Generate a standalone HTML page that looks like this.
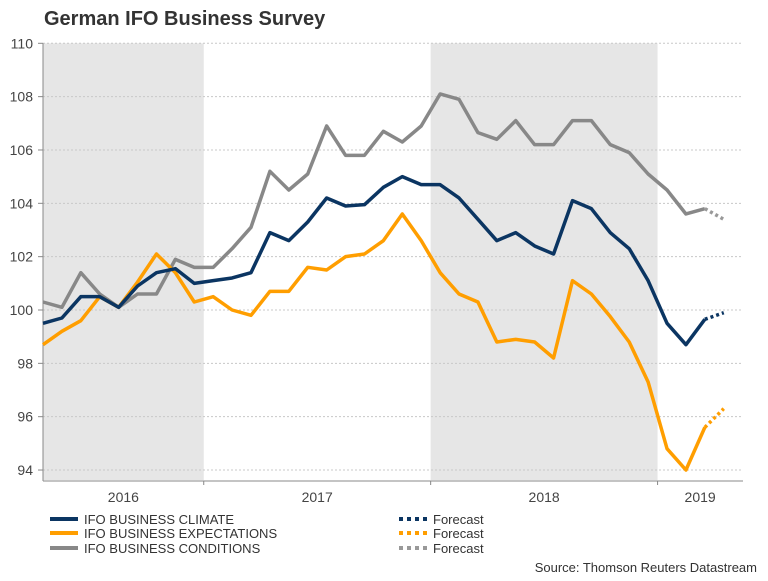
<!DOCTYPE html>
<html><head><meta charset="utf-8"><style>
body{margin:0;background:#fff;font-family:"Liberation Sans",sans-serif;}
svg text{font-family:"Liberation Sans",sans-serif;}
</style></head><body>
<svg id="chart" width="768" height="576" xmlns="http://www.w3.org/2000/svg">
<text x="44" y="25" font-size="20" font-weight="bold" fill="#333">German IFO Business Survey</text>
<g id="bands"></g><g id="grid"></g><g id="axes"></g><g id="series"></g>
<g>
<line x1="50" y1="519" x2="78" y2="519" stroke="#0b3562" stroke-width="4"/>
<text x="84" y="524" font-size="13" fill="#333">IFO BUSINESS CLIMATE</text>
<line x1="50" y1="533" x2="78" y2="533" stroke="#ff9e00" stroke-width="4"/>
<text x="84" y="538" font-size="13" fill="#333">IFO BUSINESS EXPECTATIONS</text>
<line x1="50" y1="548" x2="78" y2="548" stroke="#888" stroke-width="4"/>
<text x="84" y="553" font-size="13" fill="#333">IFO BUSINESS CONDITIONS</text>
<line x1="399" y1="519" x2="428" y2="519" stroke="#0b3562" stroke-width="4" stroke-dasharray="4,4"/>
<text x="433" y="524" font-size="13" fill="#333">Forecast</text>
<line x1="399" y1="533" x2="428" y2="533" stroke="#ff9e00" stroke-width="4" stroke-dasharray="4,4"/>
<text x="433" y="538" font-size="13" fill="#333">Forecast</text>
<line x1="399" y1="548" x2="428" y2="548" stroke="#999" stroke-width="4" stroke-dasharray="4,4"/>
<text x="433" y="553" font-size="13" fill="#333">Forecast</text>
</g>
<text x="757" y="572" font-size="13" fill="#333" text-anchor="end">Source: Thomson Reuters Datastream</text>
</svg>
<script>
const climate=[99.5,99.7,100.5,100.5,100.1,100.9,101.4,101.55,101.0,101.1,101.2,101.4,102.9,102.6,103.3,104.2,103.9,103.95,104.6,105.0,104.7,104.7,104.2,103.4,102.6,102.9,102.4,102.1,104.1,103.8,102.9,102.3,101.1,99.5,98.7,99.65];
const expectations=[98.7,99.2,99.6,100.5,100.1,101.05,102.1,101.4,100.3,100.5,100.0,99.8,100.7,100.7,101.6,101.5,102.0,102.1,102.6,103.6,102.6,101.4,100.6,100.3,98.8,98.9,98.8,98.2,101.1,100.6,99.75,98.8,97.3,94.8,94.0,95.6];
const conditions=[100.3,100.1,101.4,100.6,100.1,100.6,100.6,101.9,101.6,101.6,102.3,103.1,105.2,104.5,105.1,106.9,105.8,105.8,106.7,106.3,106.9,108.1,107.9,106.65,106.4,107.1,106.2,106.2,107.1,107.1,106.2,105.9,105.1,104.5,103.6,103.8];
const forecastClimate=[99.9];
const forecastExpectations=[96.3];
const forecastConditions=[103.4];
const yTicks=[94,96,98,100,102,104,106,108,110];
const years=["2016","2017","2018","2019"];
const yearStart=[-0.5,8.5,20.5,32.5];
const yearEnd=[8.5,20.5,32.5,37];
const NS="http://www.w3.org/2000/svg";
const X0=43,STEP=18.91,Y0=310,YU=26.67;
const x=i=>X0+i*STEP;
const y=v=>Y0-(v-100)*YU;
const clampX=v=>Math.max(43,Math.min(743,v));
function mk(tag,attrs,parent,txt){const e=document.createElementNS(NS,tag);for(const k in attrs)e.setAttribute(k,attrs[k]);if(txt!==undefined)e.textContent=txt;document.getElementById(parent).appendChild(e);return e;}
// bands (2016 and 2018)
[0,2].forEach(k=>{
 const e=mk('rect',{x:clampX(x(yearStart[k])),y:y(110),width:clampX(x(yearEnd[k]))-clampX(x(yearStart[k])),height:y(94)-y(110)+10,fill:'#e6e6e6'},'bands');
 
 
});
yTicks.forEach(t=>{
 const g=mk('line',{x1:43,x2:743,y1:y(t),y2:y(t),stroke:'#c8c8c8','stroke-dasharray':'2,2','stroke-width':1},'grid');
 
 
 mk('line',{x1:38,x2:43,y1:y(t),y2:y(t),stroke:'#888'},'axes');
 const l=mk('text',{x:33,y:y(t)+5,'font-size':14,fill:'#444','text-anchor':'end'},'axes',t);
 
 
});
const ax=mk('line',{x1:43,x2:43,y1:y(110),y2:481,stroke:'#888'},'axes');


const bx=mk('line',{x1:43,x2:743,y1:481,y2:481,stroke:'#888'},'axes');


years.forEach((yr,k)=>{
 if(k>0)mk('line',{x1:x(yearStart[k]),x2:x(yearStart[k]),y1:481,y2:485,stroke:'#888'},'axes');
 const a=clampX(x(yearStart[k])),b=clampX(x(yearEnd[k]));
 const t=mk('text',{x:(a+b)/2,y:502,'font-size':14,fill:'#444','text-anchor':'middle'},'axes',yr);
 
 
});
function line(data,fc,color,fcolor,name){
 const p=mk('polyline',{points:data.map((v,i)=>x(i)+','+y(v)).join(' '),fill:'none',stroke:color,'stroke-width':3.5,'stroke-linejoin':'round'},'series');
 
 
 const n=data.length-1;
 const pts=[x(n)+','+y(data[n])].concat(fc.map((v,i)=>x(n+1+i)+','+y(v)));
 const f=mk('polyline',{points:pts.join(' '),fill:'none',stroke:fcolor,'stroke-width':3.5,'stroke-dasharray':'3,3'},'series');
 
 
}
line(conditions,forecastConditions,'#888','#999','conditions');
line(expectations,forecastExpectations,'#ff9e00','#ff9e00','expectations');
line(climate,forecastClimate,'#0b3562','#0b3562','climate');
</script>
</body></html>
